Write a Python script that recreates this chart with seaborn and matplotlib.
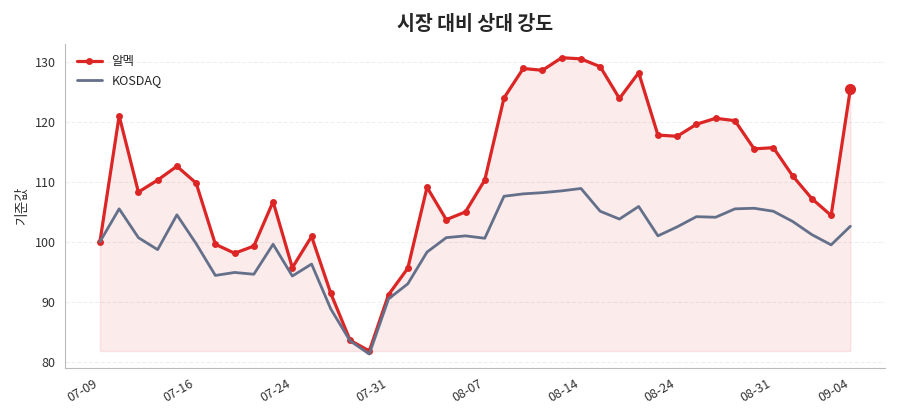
import matplotlib

matplotlib.use("Agg")
import matplotlib.pyplot as plt
import seaborn as sns
import pandas as pd

dates = [
    "07-09", "07-10", "07-11", "07-14", "07-15", "07-16", "07-17", "07-18", "07-21", "07-22",
    "07-24", "07-25", "07-28", "07-29", "07-30", "07-31", "08-01", "08-04", "08-05", "08-06",
    "08-07", "08-08", "08-11", "08-12", "08-13", "08-14", "08-18", "08-19", "08-20", "08-21",
    "08-24", "08-25", "08-26", "08-27", "08-28", "08-31", "09-01", "09-02", "09-03", "09-04",
]
almeg = [
    100, 121, 108.3, 110.3, 112.6, 109.8, 99.6, 98.1, 99.3, 106.7,
    95.7, 100.9, 91.4, 83.6, 81.8, 91.2, 95.6, 109.1, 103.7, 105.0,
    110.3, 124.0, 128.9, 128.6, 130.7, 130.5, 129.2, 123.9, 128.2, 117.8,
    117.6, 119.6, 120.6, 120.2, 115.5, 115.7, 111.0, 107.2, 104.4, 125.5,
]
kosdaq = [
    100, 105.5, 100.7, 98.7, 104.5, 99.7, 94.4, 94.9, 94.6, 99.6,
    94.3, 96.3, 88.8, 83.5, 81.3, 90.5, 93.0, 98.3, 100.7, 101.0,
    100.6, 107.6, 108.0, 108.2, 108.5, 108.9, 105.1, 103.8, 105.9, 101.0,
    102.5, 104.2, 104.1, 105.5, 105.6, 105.1, 103.4, 101.2, 99.5, 102.6,
]

sns.set_style("white")
plt.rcParams["font.family"] = ["Noto Sans CJK KR", "DejaVu Sans"]

df = pd.DataFrame({"idx": range(len(dates)), "알멕": almeg, "KOSDAQ": kosdaq})

fig, ax = plt.subplots(figsize=(9, 4.2), dpi=100)
ax.fill_between(df["idx"], df["알멕"], min(almeg + kosdaq) + 0.5, color="#dc2626", alpha=0.09)
sns.lineplot(data=df, x="idx", y="알멕", ax=ax, color="#dc2626", linewidth=2.3,
             marker="o", markersize=5, markeredgewidth=0, label="알멕")
sns.lineplot(data=df, x="idx", y="KOSDAQ", ax=ax, color="#64708a", linewidth=2, label="KOSDAQ")
ax.plot(df["idx"].iloc[-1], almeg[-1], "o", color="#dc2626", markersize=7)

ticks = list(range(0, len(dates), 5)) + [len(dates) - 1]
ax.set_xticks(ticks)
ax.set_xticklabels([dates[i] for i in ticks], rotation=30, ha="right", fontsize=9, color="#333333")
ax.tick_params(axis="y", labelsize=9, colors="#333333")
ax.set_xlim(-1.8, len(dates) + 0.8)
ax.set_ylim(79, 133)
ax.set_xlabel("")
ax.set_ylabel("기준값", fontsize=10, color="#333333")
ax.set_title("시장 대비 상대 강도", fontsize=14, weight="bold", pad=10)
ax.grid(axis="y", linestyle="--", alpha=0.3)
for side in ["top", "right"]:
    ax.spines[side].set_visible(False)
for side in ["left", "bottom"]:
    ax.spines[side].set_color("#bbbbbb")
ax.legend(loc="upper left", frameon=False, fontsize=9)
plt.tight_layout()
plt.savefig("out.png", dpi=100)
plt.close()
